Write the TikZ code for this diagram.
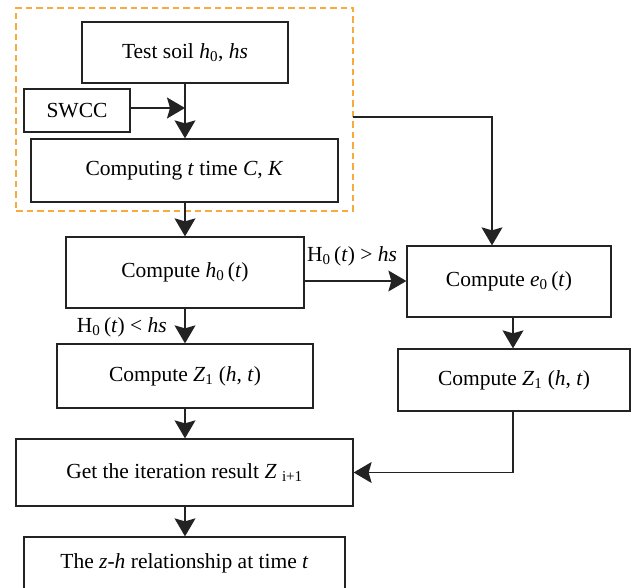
\documentclass[tikz,border=0pt]{standalone}
\usepackage{fontspec}
\setmainfont{Liberation Serif}
\usetikzlibrary{arrows.meta,positioning}
\definecolor{dashorange}{RGB}{246,170,64}
\definecolor{linegray}{RGB}{35,35,35}
\tikzset{
  box/.style={draw=linegray, line width=1.3pt, rectangle, inner sep=0pt, align=center,
    font=\fontsize{21.5}{25}\selectfont},
  conn/.style={draw=linegray, line width=1.3pt, -{Stealth[length=18pt,width=21pt,inset=3pt]}},
  lbl/.style={inner sep=0pt, font=\fontsize{21.5}{25}\selectfont},
  grpbox/.style={draw=dashorange, line width=1.5pt, dash pattern=on 6.5pt off 4pt, rectangle, inner sep=0pt}
}
\newcommand{\sbs}[1]{\textsubscript{#1}}
\begin{document}
\begin{tikzpicture}[x=1pt,y=-1pt]
\useasboundingbox (0,0) rectangle (632,588);
% group
\node[grpbox, minimum width=337pt, minimum height=203pt] (grp) at (184.5,109.5) {};
% boxes
\node[box, minimum width=206pt, minimum height=61pt] (test) at (185,52.5) {Test soil \textit{h}\sbs{0}, \textit{hs}};
\node[box, minimum width=106pt, minimum height=43pt] (swcc) at (77,110.5) {SWCC};
\node[box, minimum width=307pt, minimum height=63pt] (comp) at (184.5,170.5) {Computing \textit{t} time \textit{C}, \textit{K}};
\node[box, minimum width=238pt, minimum height=71pt] (h0) at (185,272.5) {Compute \textit{h}\sbs{0}\,(\textit{t})};
\node[box, minimum width=204pt, minimum height=71pt] (e0) at (509,281.5) {Compute \textit{e}\sbs{0}\,(\textit{t})};
\node[box, minimum width=256pt, minimum height=64pt] (z1l) at (185,376) {Compute \textit{Z}\sbs{1} (\textit{h}, \textit{t})};
\node[box, minimum width=232pt, minimum height=62pt] (z1r) at (514,380) {Compute \textit{Z}\sbs{1} (\textit{h}, \textit{t})};
\node[box, minimum width=337pt, minimum height=67pt] (iter) at (184.5,472.5) {Get the iteration result \textit{Z} \sbs{i+1}};
\node[box, minimum width=321pt, minimum height=52pt] (zh) at (184.5,563) {The \textit{z}-\textit{h} relationship at time \textit{t}};
% connectors
\coordinate (spine) at (185,0);
\draw[conn] (test.south) -- (comp.north -| spine);
\coordinate (join) at (185,108);
\draw[conn] (swcc.east |- join) -- (join);
\draw[conn] (comp.south -| spine) -- (h0.north);
\coordinate (gout) at (353,117);
\coordinate (e0in) at (492,0);
\draw[conn] (gout) -| (e0in |- e0.north);
\draw[conn] (h0.east |- 0,281) -- (e0.west |- 0,281);
\node[lbl] (lgt) at (352,256) {H\sbs{0}\,(\textit{t}) > \textit{hs}};
\draw[conn] (h0.south) -- (z1l.north);
\node[lbl, anchor=east] (llt) at (167,327) {H\sbs{0}\,(\textit{t}) < \textit{hs}};
\draw[conn] (e0.south -| 513,0) -- (z1r.north -| 513,0);
\draw[conn] (z1r.south -| 513,0) |- (iter.east);
\draw[conn] (z1l.south) -- (iter.north -| spine);
\draw[conn] (iter.south -| spine) -- (zh.north -| spine);
\end{tikzpicture}
\end{document}
